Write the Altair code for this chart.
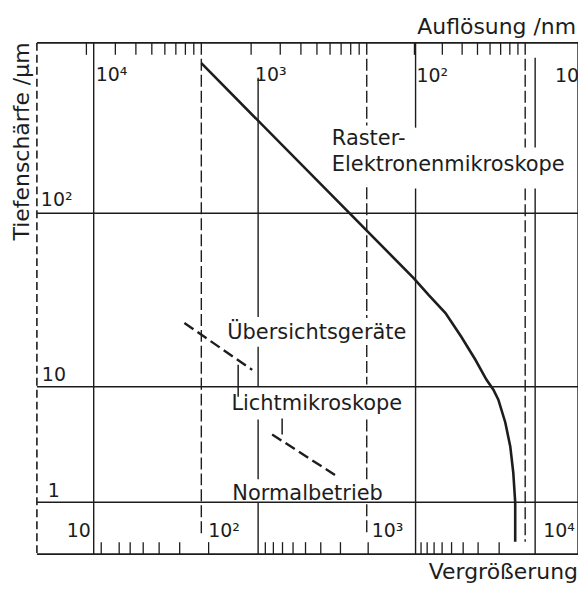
import altair as alt
import pandas as pd

FONT = "DejaVu Sans"
INK = "#1d1d1d"
W, H = 543, 513

# ---------------- values ----------------
# Tiefenschärfe grid lines (µm)
dof_grid = [1, 10, 100]
# Auflösung lines (nm): drawn as pieces (top, bottom in µm), broken where text sits
res_seg_res = [10000, 1000, 1000, 1000, 1000, 100, 100, 10, 10]
res_seg_top = [1000, 624, 17.0, 5.19, 1.0, 1000, 140, 817, 140]
res_seg_bot = [0.3, 25.2, 10, 1.58, 0.3, 318, 0.3, 243, 0.3]
# Vergrößerung dashed lines, also in pieces
mag_seg_m = [100, 1000, 1000, 1000, 1000, 1000, 10000, 10000]
mag_seg_top = [1000, 1000, 142, 17.4, 5.19, 0.955, 1000, 140]
mag_seg_bot = [0.47, 327, 24.9, 10.3, 1.58, 0.47, 243, 0.40]
# tick marks hanging from the top edge (Vergrößerung)
mag_ticks = [20, 30, 40, 50, 60, 70, 80, 90,
             200, 300, 400, 500, 600, 700, 800, 900,
             2000, 3000, 4000, 5000, 6000, 7000, 8000, 9000]
# tick marks standing on the bottom edge (Auflösung, nm)
res_ticks = [9000, 7000, 6000, 5000, 4000, 3000, 2000,
             900, 800, 700, 600, 500, 400, 300, 200,
             90, 80, 70, 60, 50, 40, 30, 20]

# Raster-Elektronenmikroskope curve
rem_mag = [100, 1977, 2455, 3140, 3950, 4850, 5690, 6300, 6770, 7490, 8050, 8410, 8650, 8650]
rem_dof = [760, 42.3, 33.8, 26.6, 19.4, 14.3, 11.0, 9.42, 7.73, 4.90, 3.04, 1.81, 1.0, 0.40]

# Lichtmikroskope: dashed segments (Übersichtsgeräte, Normalbetrieb)
lm_mag = [78.9, 268]
lm_mag2 = [203, 678]
lm_dof = [23.3, 3.86]
lm_dof2 = [12.5, 1.64]
# short leader strokes
lead_mag = [167, 308]
lead_dof = [13.4, 5.3]
lead_dof2 = [8.2, 3.86]

# in-plot labels
lab_text = ["Raster-", "Elektronenmikroskope", "Übersichtsgeräte", "Lichtmikroskope", "Normalbetrieb"]
lab_mag = [615, 615, 143.5, 152, 154]
lab_dof = [253, 178, 18.9, 6.34, 1.04]

# tick labels
top_text = ["10⁴", "10³", "10²", "10"]
top_mag = [22.8, 211, 2060, 15400]
top_dof = [600, 600, 590, 590]
bot_text = ["10", "10²", "10³", "10⁴"]
bot_mag = [15.2, 110, 1075, 12980]
bot_dof = [0.445, 0.445, 0.445, 0.445]
left_text = ["10²", "10", "1"]
left_mag = [10.57, 10.72, 11.66]
left_dof = [111, 10.8, 1.10]

# axis titles
title_text = ["Auflösung /nm", "Vergrößerung"]
title_mag = [20900, 21500]
title_dof = [1129, 0.168]
ytitle_text = ["Tiefenschärfe /µm"]
ytitle_mag = [8.94]
ytitle_dof = [264]

# ---------------- scales (hand-drawn, uneven decades) ----------------
mag_scale = alt.Scale(type="log", domain=[10, 100, 1000, 10000, 21500],
                      range=[0, 165, 331, 490, W], nice=False)
res_scale = alt.Scale(type="log", domain=[4.4, 10, 100, 1000, 10000, 22100],
                      range=[W, 500, 380, 222, 57, 0], nice=False)
dof_scale = alt.Scale(type="log", domain=[0.3, 1, 10, 100, 1000],
                      range=[H, 461, 345, 171, 0], nice=False)

one = pd.DataFrame({"k": [0]})


def X(f, sc=mag_scale):
    return alt.X(f, type="quantitative", scale=sc, axis=None)


def Y(f):
    return alt.Y(f, type="quantitative", scale=dof_scale, axis=None)


# ---- resolution group ----
res_df = pd.DataFrame({"res": res_seg_res, "top": res_seg_top, "bottom": res_seg_bot})
res_rules = alt.Chart(res_df).mark_rule(color=INK, strokeWidth=1.4).encode(
    x=X("res", res_scale), y=Y("top"), y2="bottom")
res_tick_marks = alt.Chart(pd.DataFrame({"res": res_ticks})).mark_rule(
    color=INK, strokeWidth=1.3).encode(
    x=X("res", res_scale), y=alt.value(H), y2=alt.value(H - 12))
res_group = alt.layer(res_rules, res_tick_marks)

# ---- magnification group ----
grid = alt.Chart(pd.DataFrame({"dof": dof_grid})).mark_rule(color=INK, strokeWidth=1.4).encode(
    y=Y("dof"), x=alt.value(0), x2=alt.value(W))

mag_df = pd.DataFrame({"m": mag_seg_m, "top": mag_seg_top, "bottom": mag_seg_bot})
mag_rules = alt.Chart(mag_df).mark_rule(color=INK, strokeWidth=1.4, strokeDash=[12, 4]).encode(
    x=X("m"), y=Y("top"), y2="bottom")
mag_tick_marks = alt.Chart(pd.DataFrame({"m": mag_ticks})).mark_rule(
    color=INK, strokeWidth=1.3).encode(
    x=X("m"), y=alt.value(0), y2=alt.value(12))

frame_top = alt.Chart(one).mark_rule(color=INK, strokeWidth=1.6).encode(
    x=alt.value(0), x2=alt.value(W), y=alt.value(0))
frame_bot = alt.Chart(one).mark_rule(color=INK, strokeWidth=1.6).encode(
    x=alt.value(0), x2=alt.value(W), y=alt.value(H))
frame_right = alt.Chart(one).mark_rule(color=INK, strokeWidth=1.4).encode(
    x=alt.value(W), y=alt.value(0), y2=alt.value(H))
frame_left = alt.Chart(one).mark_rule(color=INK, strokeWidth=1.6, strokeDash=[8, 4]).encode(
    x=alt.value(0), y=alt.value(0), y2=alt.value(H))

rem_df = pd.DataFrame({"m": rem_mag, "d": rem_dof, "i": list(range(len(rem_mag)))})
rem = alt.Chart(rem_df).mark_line(color=INK, strokeWidth=2.6).encode(
    x=X("m"), y=Y("d"), order="i:Q")

lm_df = pd.DataFrame({"m": lm_mag, "m2": lm_mag2, "d": lm_dof, "d2": lm_dof2})
lm = alt.Chart(lm_df).mark_rule(color=INK, strokeWidth=2.4, strokeDash=[11, 5]).encode(
    x=X("m"), x2="m2", y=Y("d"), y2="d2")
lead_df = pd.DataFrame({"m": lead_mag, "d": lead_dof, "d2": lead_dof2})
lead = alt.Chart(lead_df).mark_rule(color=INK, strokeWidth=1.5).encode(
    x=X("m"), y=Y("d"), y2="d2")

lab_df = pd.DataFrame({"t": lab_text, "m": lab_mag, "d": lab_dof})
lab = alt.Chart(lab_df).mark_text(
    font=FONT, fontSize=21, align="left", baseline="alphabetic", color=INK).encode(
    x=X("m"), y=Y("d"), text="t:N")

num_df = pd.DataFrame({"t": top_text + bot_text + left_text,
                       "m": top_mag + bot_mag + left_mag,
                       "d": top_dof + bot_dof + left_dof})
nums = alt.Chart(num_df).mark_text(
    font=FONT, fontSize=19, align="left", baseline="alphabetic", color=INK).encode(
    x=X("m"), y=Y("d"), text="t:N")

title_df = pd.DataFrame({"t": title_text, "m": title_mag, "d": title_dof})
titles = alt.Chart(title_df).mark_text(
    font=FONT, fontSize=22, align="right", baseline="alphabetic", color=INK).encode(
    x=X("m"), y=Y("d"), text="t:N")
ytitle_df = pd.DataFrame({"t": ytitle_text, "m": ytitle_mag, "d": ytitle_dof})
ytitle = alt.Chart(ytitle_df).mark_text(
    font=FONT, fontSize=22, align="center", baseline="alphabetic", angle=270,
    color=INK).encode(x=X("m"), y=Y("d"), text="t:N")

mag_group = alt.layer(grid, mag_rules, mag_tick_marks, frame_top, frame_bot,
                      frame_right, frame_left, lm, lead, rem, lab,
                      nums, titles, ytitle)

chart = alt.layer(res_group, mag_group).resolve_scale(x="independent").properties(
    width=W, height=H,
    autosize=alt.AutoSizeParams(type="none"),
    padding={"left": 29, "top": 34, "right": 0, "bottom": 31},
    background="white",
).configure_view(stroke=None)

chart.save("out.html", embed_options={"renderer": "svg", "actions": False})
